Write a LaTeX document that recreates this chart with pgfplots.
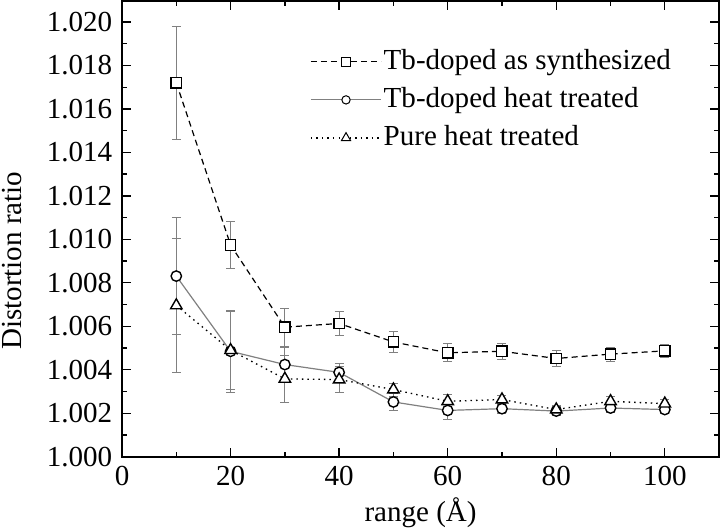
\documentclass[border=0pt]{standalone}
\usepackage{pgfplots}
\pgfplotsset{compat=1.18}
\usepackage{fontspec}
\setmainfont{Liberation Serif}
\begin{document}
\fontsize{29}{34}\selectfont
\begin{tikzpicture}
\begin{axis}[
  scale only axis,
  width=596pt, height=455pt,
  xmin=0, xmax=110, ymin=1.000, ymax=1.02097,
  xtick={0,20,40,60,80,100},
  minor xtick={10,30,50,70,90,110},
  ytick={1.000,1.002,1.004,1.006,1.008,1.010,1.012,1.014,1.016,1.018,1.020},
  minor ytick={1.001,1.003,1.005,1.007,1.009,1.011,1.013,1.015,1.017,1.019},
  tick align=inside,
  major tick length=9pt, minor tick length=5pt,
  tick style={black, line width=1.3pt},
  axis line style={line width=1.8pt},
  /pgf/number format/assume math mode=true,
  yticklabel style={/pgf/number format/.cd, fixed, fixed zerofill, precision=3},
  scaled y ticks=false,
  ticklabel style={font=\fontsize{29}{34}\selectfont},
  xlabel={range (Å)},
  ylabel={Distortion ratio},
  label style={font=\fontsize{29}{34}\selectfont},
  ylabel style={at={(axis description cs:-0.2047,0.43)}, anchor=north, inner sep=2pt},
  xlabel style={at={(axis description cs:0.5,-0.160)}, anchor=south, inner sep=2pt},
  legend style={draw=none, fill=none, at={(0.315,0.898)}, anchor=north west,
    font=\fontsize{29}{34}\selectfont, row sep=9.5pt, inner sep=0pt},
  legend cell align=left,
  legend image code/.code={
    \draw[mark repeat=2, mark phase=2, #1,
      mark options={solid, fill=white, draw=black, line width=1pt, scale=0.8}]
      plot coordinates {(0pt,0pt) (35pt,0pt) (70pt,0pt)};
  },
  every axis plot/.append style={
    error bars/y dir=both, error bars/y explicit,
    error bars/error bar style={gray, solid, line width=0.9pt},
    error bars/error mark options={gray, solid, rotate=90, mark size=4.5pt, line width=0.9pt},
  },
]
\addplot[black, line width=1.2pt, dash pattern=on 6pt off 4pt, mark=square*,
  mark size=5.2pt, mark options={solid, fill=white, draw=black, line width=1.4pt}]
  table[x=x, y=y, y error=e] {
x y e
10 1.01720 0.0026
20 1.00974 0.0011
30 1.00596 0.00087
40 1.00613 0.00057
50 1.00528 0.00047
60 1.00478 0.00042
70 1.00485 0.00036
80 1.00452 0.00035
90 1.00472 0.00033
100 1.00487 0.00030
};
\addlegendentry{Tb-doped as synthesized}
\addplot[gray, line width=1.2pt, solid, mark=*,
  mark size=5.2pt, mark options={solid, fill=white, draw=black, line width=1.4pt}]
  table[x=x, y=y, y error=e] {
x y e
10 1.00831 0.0027
20 1.00485 0.0019
30 1.00424 0.0008
40 1.00388 0.0004
50 1.00252 0.0004
60 1.00213 0.0004
70 1.00221 0.0002
80 1.00210 0.0002
90 1.00224 0.0002
100 1.00217 0.0002
};
\addlegendentry{Tb-doped heat treated}
\addplot[black, line width=1.3pt, dash pattern=on 1.5pt off 4pt, mark=triangle*,
  mark size=6.6pt, mark options={solid, fill=white, draw=black, line width=1.4pt}]
  table[x=x, y=y, y error=e] {
x y e
10 1.00696 0.0031
20 1.00490 0.0018
30 1.00358 0.0011
40 1.00355 0.0006
50 1.00309 0.0003
60 1.00255 0.0003
70 1.00263 0.0002
80 1.00217 0.0002
90 1.00255 0.0002
100 1.00244 0.0002
};
\addlegendentry{Pure heat treated}
\end{axis}
\end{tikzpicture}
\end{document}
